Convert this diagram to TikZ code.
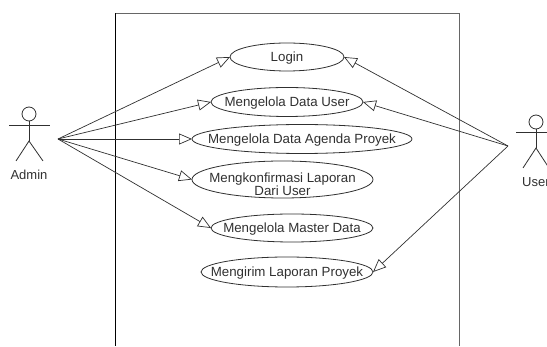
\documentclass[tikz,border=0pt]{standalone}
\usepackage{fontspec}
\setmainfont{Liberation Sans}
\usetikzlibrary{shapes.geometric,arrows.meta}
\definecolor{ink}{HTML}{303030}
\newcommand{\uc}[1]{\makebox[0pt]{\raisebox{-4.6pt}[0pt][0pt]{#1}}}
\newcommand{\ucb}[1]{\makebox[0pt]{\raisebox{-9.8pt}[0pt][0pt]{#1}}}
\tikzset{
  usecase/.style={ellipse,draw=ink,line width=0.8pt,inner sep=0pt,outer sep=0pt,font=\fontsize{13.3}{12}\selectfont,text=ink},
  actorline/.style={draw=ink,line width=0.8pt},
  actorlabel/.style={font=\fontsize{13}{13}\selectfont,text=ink,inner sep=0pt},
  assoc/.style={draw=ink,line width=0.7pt,-{Triangle[open,length=13pt,width=11pt,line width=0.7pt]},shorten >=0pt},
  frameline/.style={line width=0.9pt}
}
\begin{document}
\begin{tikzpicture}[x=1pt,y=-1pt]
\useasboundingbox (0,0) rectangle (547,347);
\clip (0,0) rectangle (547,347);
% system boundary
\draw[frameline,draw=black] (115.5,346) -- (115.5,13);
\draw[frameline,draw=black!60] (115.5,13) -- (459,13) -- (459,346);
% use cases
\node[usecase,minimum width=114pt,minimum height=28pt] (login) at (287,57) {\uc{Login}};
\node[usecase,minimum width=152pt,minimum height=29pt] (datauser) at (287,102) {\uc{Mengelola Data User}};
\node[usecase,minimum width=220pt,minimum height=29pt] (agenda) at (302,139) {\uc{Mengelola Data Agenda Proyek}};
\node[usecase,minimum width=181pt,minimum height=37pt] (konfirmasi) at (282.5,179.5) {\ucb{\begin{tabular}{@{}c@{}}Mengkonfirmasi Laporan\\Dari User\end{tabular}}};
\node[usecase,minimum width=162pt,minimum height=28pt] (master) at (292,228) {\uc{Mengelola Master Data}};
\node[usecase,minimum width=172pt,minimum height=30pt] (kirim) at (287,272) {\uc{Mengirim Laporan Proyek}};
% Admin actor
\node[circle,actorline,minimum size=14pt,inner sep=0pt] (adminhead) at (29,114) {};
\coordinate (adminhip) at (29,141);
\coordinate (adminarml) at (9,125);
\coordinate (adminarmr) at (50,125);
\coordinate (adminfootl) at (16,161);
\coordinate (adminfootr) at (43,161);
\coordinate (adminport) at (58,139);
\draw[actorline] (adminhead) -- (adminhip);
\draw[actorline] (adminarml) -- (adminarmr);
\draw[actorline] (adminfootl) -- (adminhip) -- (adminfootr);
\node[actorlabel] (adminlabel) at (29,174.5) {Admin};
% User actor
\node[circle,actorline,minimum size=14pt,inner sep=0pt] (userhead) at (536,122) {};
\coordinate (userhip) at (536,148);
\coordinate (userarml) at (516,132);
\coordinate (userarmr) at (556,132);
\coordinate (userfootl) at (523,168);
\coordinate (userfootr) at (549,168);
\coordinate (userport) at (508,146);
\draw[actorline] (userhead) -- (userhip);
\draw[actorline] (userarml) -- (userarmr);
\draw[actorline] (userfootl) -- (userhip) -- (userfootr);
\node[actorlabel,anchor=west] (userlabel) at (522,182) {User};
% associations
\draw[assoc] (adminport) -- (login.west);
\draw[assoc] (adminport) -- (datauser.west);
\draw[assoc] (adminport) -- (agenda.west);
\draw[assoc] (adminport) -- (konfirmasi.west);
\draw[assoc] (adminport) -- (master.west);
\draw[assoc] (userport) -- (login.east);
\draw[assoc] (userport) -- (datauser.east);
\draw[assoc] (userport) -- (kirim.east);
\end{tikzpicture}
\end{document}
